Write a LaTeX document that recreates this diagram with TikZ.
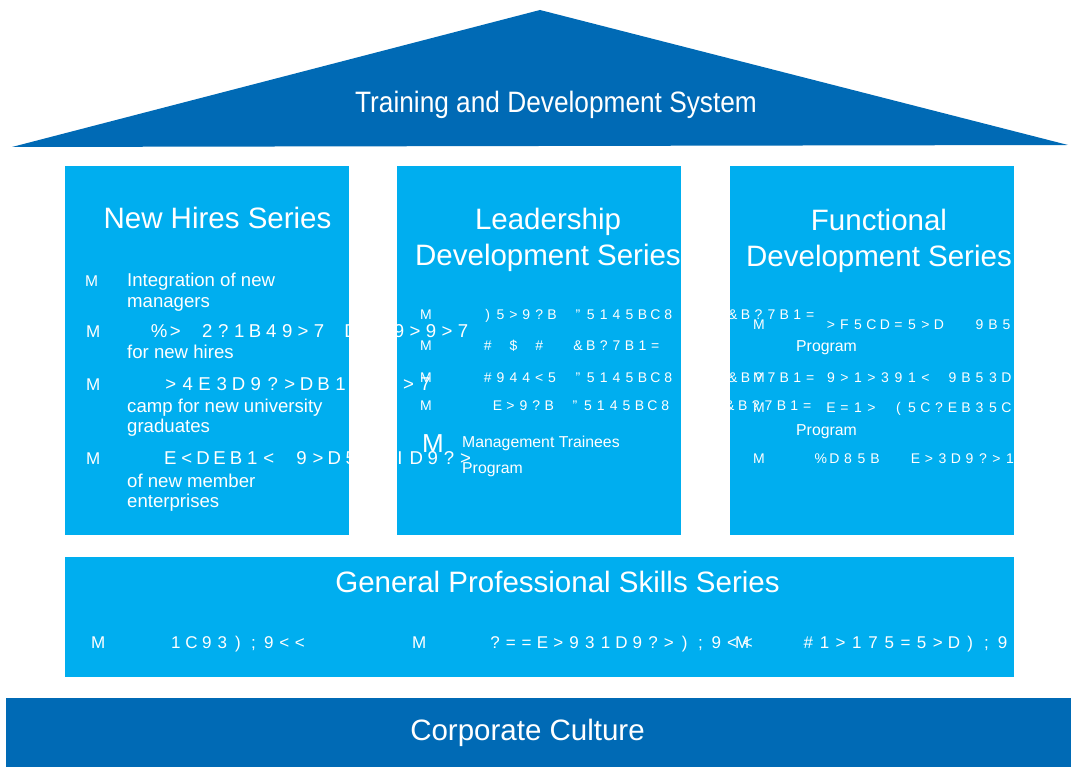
\documentclass[tikz,border=0pt]{standalone}
\usepackage{fontspec}
\setmainfont{Liberation Sans}
\newfontfamily\roofface[FakeStretch=0.89]{Liberation Sans}
\definecolor{roofblue}{HTML}{006AB5}
\definecolor{pillarblue}{HTML}{00AEEF}
\newlength\glyphpitch
\newcommand\glyphrow[2]{\setlength\glyphpitch{#1}\glyphrowi#2\relax}
\def\glyphrowi#1{\ifx#1\relax\else\makebox[\glyphpitch]{#1}\expandafter\glyphrowi\fi}

\begin{document}
\begin{tikzpicture}[x=1pt,y=-1pt,
  heading/.style={text=white,inner sep=0pt,align=center,font=\fontsize{29.5}{36}\selectfont},
  item/.style={text=white,inner sep=0pt,anchor=base west,align=left,font=\fontsize{18.6}{20.5}\selectfont},
  note/.style={item,font=\fontsize{15.8}{26}\selectfont},
  bullet/.style={text=white,inner sep=0pt,anchor=base west,font=\fontsize{17}{20}\selectfont},
  smallbullet/.style={bullet,font=\fontsize{14}{16}\selectfont},
  glyphs/.style={bullet,font=\fontsize{18.6}{20}\selectfont},
  smallglyphs/.style={bullet,font=\fontsize{14}{16}\selectfont}]
  \useasboundingbox (0,0) rectangle (1074,767);
  \fill [white] (0,0) rectangle (1074,767);
  \fill [roofblue] (12,147) -- (540,10) -- (1068,145) -- cycle;
  \fill [pillarblue] (65,166) rectangle (349,535);
  \fill [pillarblue] (397,166) rectangle (681,535);
  \fill [pillarblue] (730,166) rectangle (1014,535);
  \fill [pillarblue] (65,557) rectangle (1014,677);
  \fill [roofblue] (6,698) rectangle (1071,767);

  \node [heading,anchor=base,font=\roofface\fontsize{29.5}{36}\selectfont] (system) at (556,113) {Training and Development System};
  \node [heading,anchor=base] (hires) at (217.5,229) {New Hires Series};
  \node [heading] (leadership) at (548,240) {Leadership\\Development Series};
  \node [heading] (functional) at (879,240.5) {Functional\\Development Series};
  \node [heading,anchor=base] (general) at (557.5,592) {General Professional Skills Series};
  \node [heading,anchor=base] (culture) at (527.5,740) {Corporate Culture};

  \node [bullet,font=\fontsize{15.6}{18}\selectfont] (hiresm1) at (85,287) {M};
  \node [item] (hiresa) at (127,307.5) {Integration of new\\managers};
  \node [bullet] (hiresm2) at (86,338) {M};
  \node [glyphs] (hiresb) at (151,338) {\glyphrow{16pt}{\%>~2?1B49>7~D~~9>9>7}};
  \node [item] (hiresb2) at (127,359) {for new hires};
  \node [bullet] (hiresm3) at (86,391) {M};
  \node [glyphs] (hiresc) at (162,391) {\glyphrow{17pt}{>4E3D9?>DB1~~9>7}};
  \node [item] (hiresc2) at (127,432.5) {camp for new university\\graduates};
  \node [bullet] (hiresm4) at (86,464) {M};
  \node [glyphs] (hiresd) at (162,464) {\glyphrow{16.4pt}{E<DEB1<~9>D5~~ID9?>}};
  \node [item] (hiresd2) at (127,507.5) {of new member\\enterprises};

  \node [smallbullet] (leadm1) at (420,320) {M};
  \node [smallglyphs] (leada) at (481,320) {\glyphrow{12.9pt}{)5>9?B~"5145BC8~~~~\&B?7B1=}};
  \node [smallbullet] (leadm2) at (420,351) {M};
  \node [smallglyphs] (leadb) at (481,351) {\glyphrow{12.9pt}{\#~\$~\#~~\&B?7B1=}};
  \node [smallbullet] (leadm3) at (420,382) {M};
  \node [smallglyphs] (leadc) at (481,382) {\glyphrow{12.9pt}{\#944<5~"5145BC8~~~~\&B?7B1=}};
  \node [smallbullet] (leadm4) at (420,410) {M};
  \node [smallglyphs] (leadd) at (491,410) {\glyphrow{12.9pt}{E>9?B~"5145BC8~~~~\&B?7B1=}};
  \node [bullet,font=\fontsize{26}{30}\selectfont] (leadm5) at (422,452) {M};
  \node [note] (leade) at (462,473) {Management Trainees\\Program};

  \node [smallbullet] (funcm1) at (753,330) {M};
  \node [smallglyphs] (funca) at (824,330) {\glyphrow{13.5pt}{>F5CD=5>D~~9B5}};
  \node [note] (funca2) at (796,352) {Program};
  \node [smallbullet] (funcm2) at (753,382) {M};
  \node [smallglyphs] (funcb) at (824,382) {\glyphrow{13.5pt}{9>1>391<~9B53D}};
  \node [smallbullet] (funcm3) at (753,412) {M};
  \node [smallglyphs] (funcc) at (824,412) {\glyphrow{13.5pt}{E=1>~(5C?EB35C}};
  \node [note] (funcc2) at (796,435) {Program};
  \node [smallbullet] (funcm4) at (753,463) {M};
  \node [smallglyphs] (funcd) at (814,463) {\glyphrow{13.5pt}{\%D85B~~E>3D9?>1}};

  \node [bullet] (genm1) at (91,648) {M};
  \node [bullet] (gena) at (168,648) {\glyphrow{15.5pt}{1C93);9<<}};
  \node [bullet] (genm2) at (412,648) {M};
  \node [bullet] (genb) at (487,648) {\glyphrow{15.8pt}{?==E>931D9?>);9<<}};
  \node [bullet] (genm3) at (735,648) {M};
  \node [bullet] (genc) at (800,648) {\glyphrow{16.2pt}{\#1>175=5>D);9}};
\end{tikzpicture}
\end{document}
